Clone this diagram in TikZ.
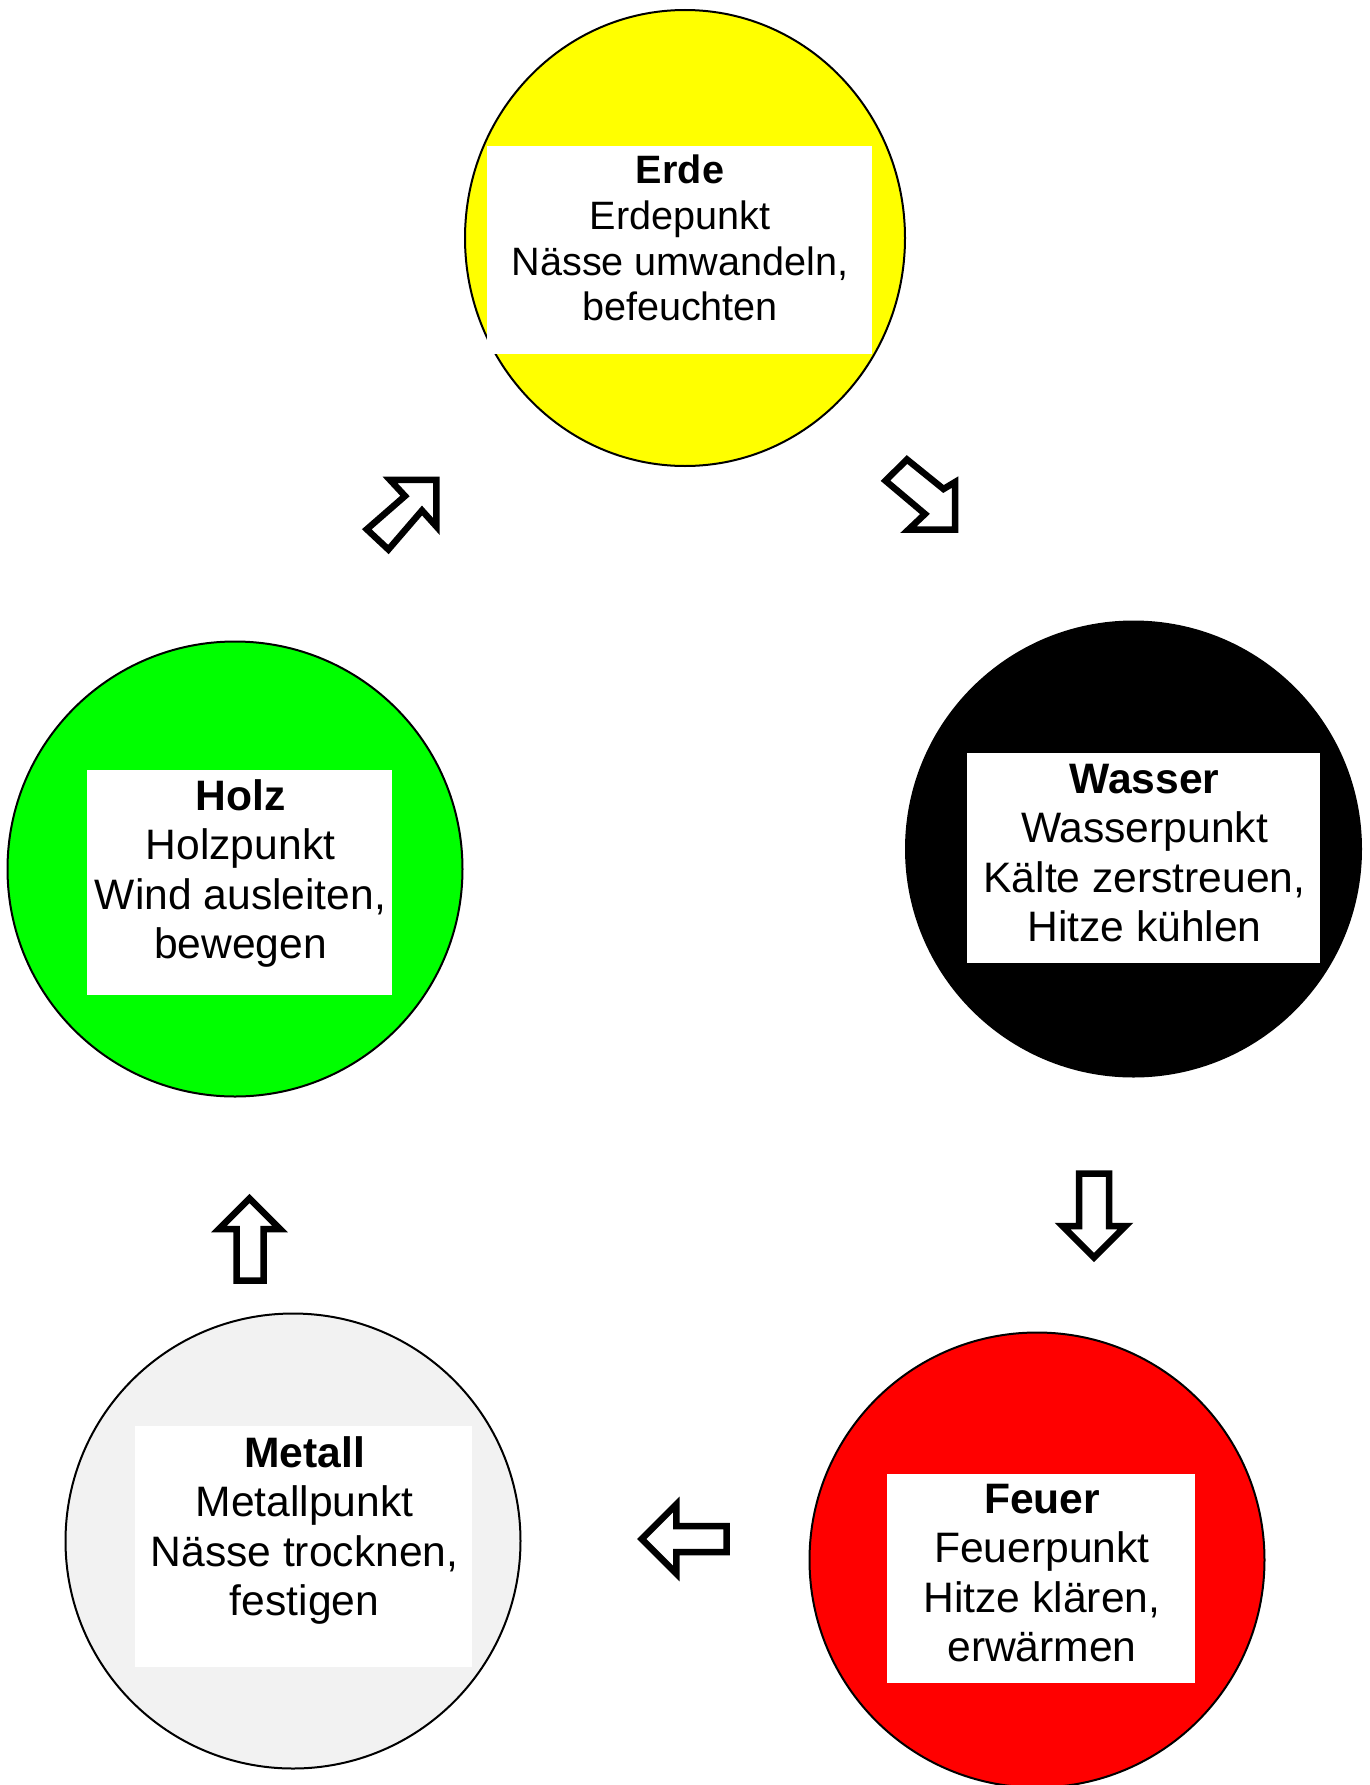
\documentclass[tikz,border=0pt]{standalone}
\usepackage{fontspec}
\setmainfont{Liberation Sans}
\usetikzlibrary{shapes.geometric}
\definecolor{erdeY}{HTML}{FFFF00}
\definecolor{feuerR}{HTML}{FF0000}
\definecolor{holzG}{HTML}{00FF00}
\definecolor{metallG}{HTML}{F2F2F2}
\begin{document}
\begin{tikzpicture}[x=1pt,y=-1pt,
  elem/.style={draw=black, line width=2pt, inner sep=0pt, circle, minimum size=455pt},
  labelbox/.style={fill=white, draw=none, inner sep=0pt},
  txt/.style={align=center, inner sep=0pt, anchor=north, font=\fontsize{42.6}{49.4}\selectfont},
  txtsmall/.style={txt, font=\fontsize{39.6}{45.8}\selectfont},
  blockarrow/.style={draw=black, fill=white, line width=6.5pt, line join=miter}]
\useasboundingbox (0,0) rectangle (1369,1785);

% Erde
\node[elem, ellipse, fill=erdeY, minimum width=440pt, minimum height=456pt] (erde) at (685,238) {};
\node[labelbox, minimum width=385pt, minimum height=208pt] (erdebox) at (679.5,250) {};
\node[txtsmall] (erdetxt) at (680,154.6) {\textbf{Erde}\\Erdepunkt\\Nässe umwandeln,\\befeuchten};

% Wasser
\node[elem, fill=black] (wasser) at (1133.5,849) {};
\node[labelbox, minimum width=353pt, minimum height=210pt] (wasserbox) at (1143.5,858) {};
\node[txt] (wassertxt) at (1144.5,764) {\textbf{Wasser}\\Wasserpunkt\\Kälte zerstreuen,\\Hitze kühlen};

% Feuer
\node[elem, fill=feuerR] (feuer) at (1037,1560) {};
\node[labelbox, minimum width=308pt, minimum height=209pt] (feuerbox) at (1041,1578.5) {};
\node[txt] (feuertxt) at (1042,1484) {\textbf{Feuer}\\Feuerpunkt\\Hitze klären,\\erwärmen};

% Metall
\node[elem, fill=metallG] (metall) at (293,1541) {};
\node[labelbox, minimum width=337pt, minimum height=241pt] (metallbox) at (303.5,1546.5) {};
\node[txt] (metalltxt) at (304.5,1436.5) {\textbf{Metall}\\Metallpunkt\\Nässe trocknen,\\festigen};

% Holz
\node[elem, fill=holzG] (holz) at (235,869) {};
\node[labelbox, minimum width=305pt, minimum height=225pt] (holzbox) at (239.5,882.5) {};
\node[txt] (holztxt) at (240.5,779.5) {\textbf{Holz}\\Holzpunkt\\Wind ausleiten,\\bewegen};

% block arrows
\draw[blockarrow] (907,459.5) -- (943.5,489) -- (955.2,482) -- (955.2,529.6) -- (908.5,529.6) -- (925,514) -- (885.5,480.7) -- cycle;
\draw[blockarrow] (1079,1173.5) -- (1109,1173.5) -- (1109,1226) -- (1125.5,1226) -- (1094,1257.5) -- (1062.5,1226) -- (1079,1226) -- cycle;
\draw[blockarrow] (641.8,1539) -- (676.3,1504.5) -- (676.3,1526) -- (726.7,1526) -- (726.7,1552) -- (676.3,1552) -- (676.3,1573.5) -- cycle;
\draw[blockarrow] (249.5,1198.5) -- (280,1229) -- (263.5,1229) -- (263.5,1280.5) -- (236.5,1280.5) -- (236.5,1229) -- (219,1229) -- cycle;
\draw[blockarrow] (436.4,479.9) -- (436.4,526.5) -- (422,510.5) -- (388.4,549.5) -- (366.8,529.3) -- (405,496) -- (390,479.9) -- cycle;
\end{tikzpicture}
\end{document}
